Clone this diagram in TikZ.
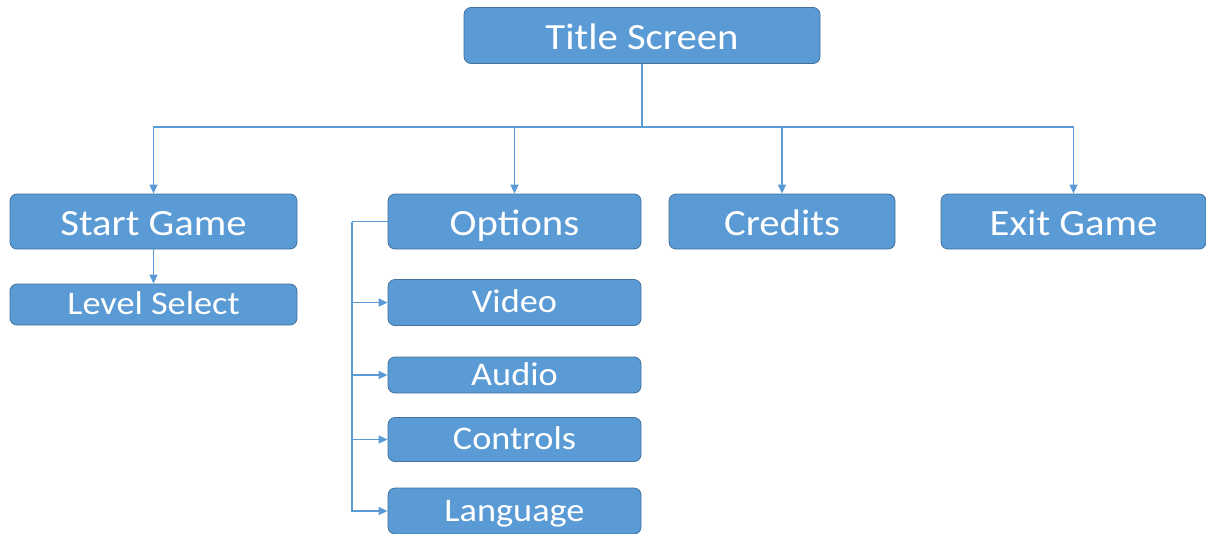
\documentclass[tikz,border=0pt]{standalone}
\usepackage{fontspec}
\setmainfont[FakeStretch=1.1]{Carlito}
\usetikzlibrary{arrows.meta}
\definecolor{boxfill}{HTML}{5B9BD5}
\definecolor{boxline}{HTML}{41719C}
\definecolor{wire}{HTML}{5B9BD5}
\tikzset{
  box/.style={draw=boxline, fill=boxfill, line width=0.8pt, rounded corners=7pt,
    text=white, inner sep=0pt},
  big/.style={box, font=\fontsize{37}{40}\selectfont, text height=32pt, text depth=5pt},
  small/.style={box, font=\fontsize{33}{36}\selectfont, text height=27pt, text depth=7pt},
  wireline/.style={draw=wire, line width=1.4pt},
  arr/.style={wireline, -{Triangle[length=9pt,width=8pt]}}
}
\begin{document}
\begin{tikzpicture}[x=1pt,y=-1pt]
\useasboundingbox (0,0) rectangle (1206,533);
\node[big, minimum width=356pt, minimum height=56pt] (title) at (642,35.5) {Title Screen};
\node[big, minimum width=287pt, minimum height=55pt] (start) at (153.5,221.5) {Start Game};
\node[small, minimum width=287pt, minimum height=41pt] (level) at (153.5,304.5) {Level Select};
\node[big, minimum width=253pt, minimum height=55pt] (opt) at (514.5,221.5) {Options};
\node[small, minimum width=253pt, minimum height=46pt] (video) at (514.5,302.5) {Video};
\node[small, minimum width=253pt, minimum height=36pt] (audio) at (514.5,375) {Audio};
\node[small, minimum width=253pt, minimum height=44pt] (controls) at (514.5,439.5) {Controls};
\node[small, minimum width=253pt, minimum height=46pt] (lang) at (514.5,511) {Language};
\node[big, minimum width=226pt, minimum height=55pt] (credits) at (782,221.5) {Credits};
\node[big, minimum width=265pt, minimum height=55pt] (exit) at (1073.5,221.5) {Exit Game};
\coordinate (hub) at (642,127);
\coordinate (bx) at (352,221.5);
\draw[wireline] (title.south) -- (hub);
\draw[arr] (hub) -| (start.north);
\draw[arr] (hub) -| (opt.north);
\draw[arr] (hub) -| (credits.north);
\draw[arr] (hub) -| (exit.north);
\draw[arr] (start.south) -- (level.north);
\draw[wireline] (opt.west) -- (bx);
\draw[arr] (bx) |- (video.west);
\draw[arr] (bx) |- (audio.west);
\draw[arr] (bx) |- (controls.west);
\draw[arr] (bx) |- (lang.west);
\end{tikzpicture}
\end{document}
